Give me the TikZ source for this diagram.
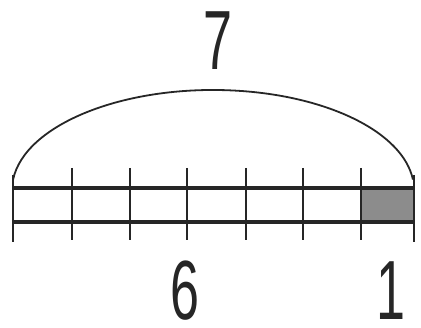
\documentclass[tikz,border=0pt]{standalone}
\usepackage{fontspec}
\newfontfamily\digitfont[FakeStretch=0.62]{Liberation Sans}
\begin{document}
\begin{tikzpicture}[x=1pt,y=1pt,
  barline/.style={line width=3.3pt,draw=black!85},
  tickline/.style={line width=1.8pt,draw=black!85},
  arcline/.style={line width=1.8pt,draw=black!85},
  numlabel/.style={font=\digitfont\fontsize{84}{84}\selectfont,text=black!85,inner sep=0pt,anchor=base}]
\useasboundingbox (0,0) rectangle (421,328);
% shaded part
\fill[black!45] (361,106) rectangle (414,140);
% bar lines
\draw[barline] (13,140) -- (414,140);
\draw[barline] (13,106) -- (414,106);
% ticks
\draw[tickline] (13,153) -- (13,86);
\foreach \x in {72,130,187,246,303,361} \draw[tickline] (\x,160) -- (\x,88);
\draw[tickline] (414,153) -- (414,86);
% brace arc
\coordinate (arcstart) at ({213+201*cos(174)},{138+100*sin(174)});
\draw[arcline] (arcstart) arc[start angle=174,end angle=6,x radius=201,y radius=100];
% labels
\node[numlabel] (seven) at (218,258) {7};
\node[numlabel] (six) at (185,8) {6};
\node[numlabel] (one) at (391,8) {1};
\end{tikzpicture}
\end{document}
